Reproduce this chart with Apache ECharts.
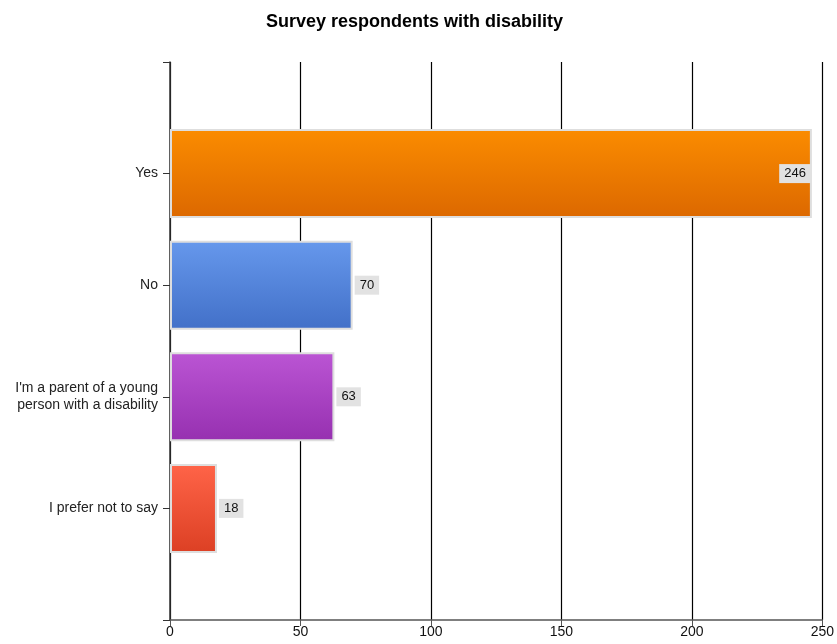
<!DOCTYPE html>
<html>
<head>
<meta charset="utf-8">
<script src="https://cdn.jsdelivr.net/npm/echarts@6/dist/echarts.min.js"></script>
<style>
  html, body { margin: 0; padding: 0; background: #fff; }
  #chart { width: 837px; height: 644px; }
</style>
</head>
<body>
<div id="chart"></div>
<script>
// padding slots at both ends so bars sit on the axis ticks
var categories = ['', 'Yes', 'No', "I'm a parent of a young\nperson with a disability", 'I prefer not to say', ''];
var values = ['-', 246, 70, 63, 18, '-'];
var topColors = ['', '#fb8c00', '#6698ec', '#bb55d4', '#ff6448'];
var bottomColors = ['', '#dc6800', '#4270c8', '#9630b0', '#dc4024'];
var xTicks = [0, 50, 100, 150, 200, 250];

var seriesData = values.map(function (v, i) {
    if (v === '-') return '-';
    return {
        value: v,
        itemStyle: {
            color: new echarts.graphic.LinearGradient(0, 0, 0, 1, [
                { offset: 0, color: topColors[i] },
                { offset: 1, color: bottomColors[i] }
            ])
        },
        label: {
            position: v > 200 ? 'insideRight' : 'right',
            distance: v > 200 ? 1 : 2
        }
    };
});

var option = {
    animation: false,
    title: {
        text: 'Survey respondents with disability',
        left: 261,
        top: 8,
        textStyle: {
            fontFamily: 'Liberation Sans',
            fontWeight: 'bold',
            fontSize: 18,
            color: '#000'
        }
    },
    grid: {
        left: 170,
        right: 14,
        top: 62,
        bottom: 24,
        containLabel: false
    },
    xAxis: {
        type: 'value',
        min: xTicks[0],
        max: xTicks[xTicks.length - 1],
        interval: 50,
        axisLine: { show: true, lineStyle: { color: '#555', width: 1.5 } },
        axisTick: { show: true, length: 6, lineStyle: { color: '#555' } },
        axisLabel: {
            fontFamily: 'Liberation Sans',
            fontSize: 14,
            color: '#111',
            margin: 5
        },
        splitLine: { show: true, lineStyle: { color: '#000', width: 1.2 } }
    },
    yAxis: {
        type: 'category',
        data: categories,
        inverse: true,
        boundaryGap: false,
        axisLine: { show: true, lineStyle: { color: '#333', width: 1.5 } },
        axisTick: { show: true, length: 7, lineStyle: { color: '#333' } },
        axisLabel: {
            fontFamily: 'Liberation Sans',
            fontSize: 14,
            color: '#222',
            margin: 12,
            align: 'right',
            lineHeight: 17
        },
        splitLine: { show: false }
    },
    series: [{
        type: 'bar',
        data: seriesData,
        barWidth: 89,
        itemStyle: {
            borderColor: '#dedede',
            borderWidth: 2
        },
        label: {
            show: true,
            fontFamily: 'Liberation Sans',
            fontSize: 13,
            color: '#111',
            backgroundColor: '#e2e2e2',
            padding: [3, 5, 3, 5]
        }
    }]
};

var chart = echarts.init(document.getElementById('chart'));
chart.setOption(option);
</script>
</body>
</html>
